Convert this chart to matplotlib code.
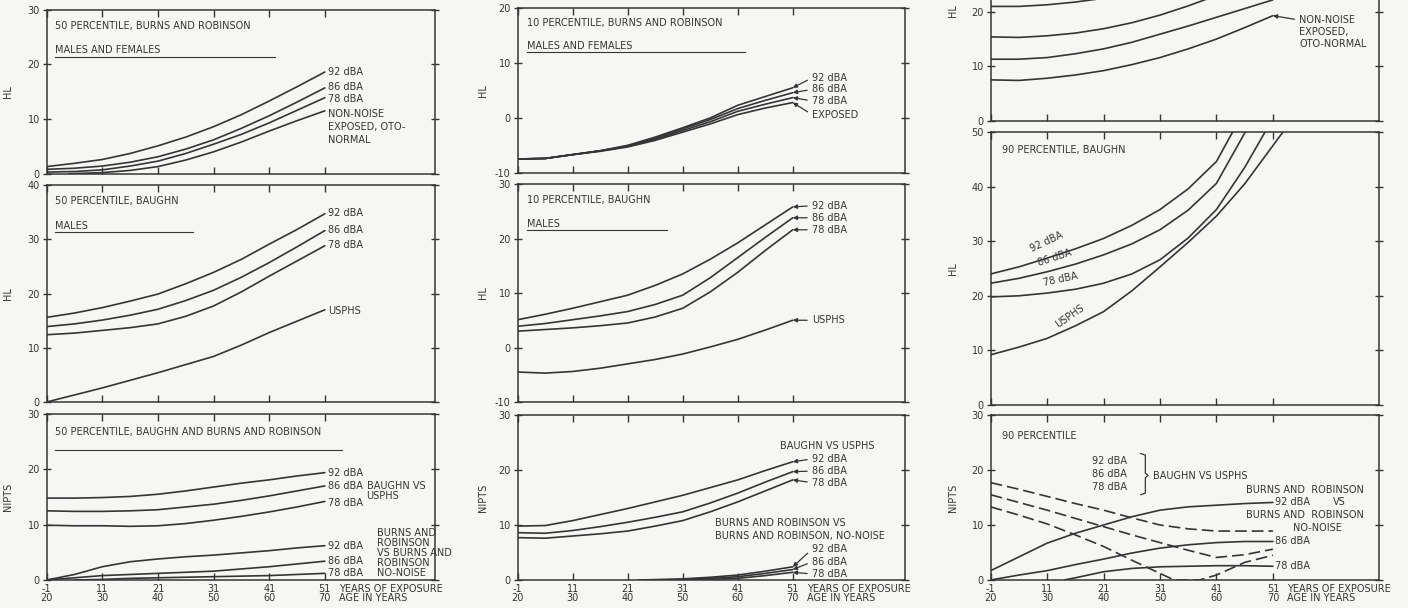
import matplotlib.pyplot as plt

plt.rcParams["font.family"] = ["DejaVu Sans"]
plt.rcParams["axes.unicode_minus"] = False

INK = "#353535"
BG = "#f6f6f4"
FS = 7

# ---- x axis (age in years / years of exposure) ----
ages = [20, 25, 30, 35, 40, 45, 50, 55, 60, 65, 70]
xtick_ages = [20, 30, 40, 50, 60, 70]
xtick_labels = ["-1\n20", "11\n30", "21\n40", "31\n50", "41\n60", "51\n70"]

# ---- 50 percentile, Burns and Robinson (HL) ----
br50_92 = [1.3, 1.9, 2.6, 3.7, 5.1, 6.7, 8.6, 10.8, 13.3, 15.9, 18.6]
br50_86 = [0.8, 1.0, 1.4, 2.1, 3.1, 4.5, 6.2, 8.3, 10.6, 13.1, 15.7]
br50_78 = [0.3, 0.4, 0.7, 1.4, 2.3, 3.7, 5.4, 7.2, 9.3, 11.6, 13.9]
br50_nn_ages = [24, 30, 35, 40, 45, 50, 55, 60, 65, 70]
br50_nn = [0.0, 0.2, 0.6, 1.3, 2.5, 4.0, 5.8, 7.8, 9.7, 11.5]

# ---- 50 percentile, Baughn (HL) ----
ba50_92 = [15.6, 16.4, 17.4, 18.6, 19.9, 21.8, 23.9, 26.3, 29.1, 31.8, 34.7]
ba50_86 = [13.9, 14.4, 15.1, 16.0, 17.1, 18.7, 20.6, 23.0, 25.7, 28.6, 31.6]
ba50_78 = [12.4, 12.7, 13.2, 13.7, 14.4, 15.8, 17.7, 20.3, 23.2, 26.0, 28.8]
ba50_us = [0.0, 1.3, 2.6, 4.0, 5.4, 6.9, 8.4, 10.5, 12.8, 14.9, 17.0]

# ---- 50 percentile NIPTS ----
np50_b92 = [14.8, 14.8, 14.9, 15.1, 15.5, 16.1, 16.8, 17.5, 18.1, 18.8, 19.4]
np50_b86 = [12.5, 12.4, 12.4, 12.5, 12.7, 13.2, 13.7, 14.4, 15.2, 16.1, 17.0]
np50_b78 = [9.9, 9.8, 9.8, 9.7, 9.8, 10.2, 10.8, 11.5, 12.3, 13.2, 14.2]
np50_r92 = [0.0, 1.0, 2.4, 3.3, 3.8, 4.2, 4.5, 4.9, 5.3, 5.8, 6.2]
np50_r86 = [0.0, 0.4, 0.8, 1.0, 1.2, 1.4, 1.6, 2.0, 2.4, 2.9, 3.4]
np50_r78_ages = [25, 30, 35, 40, 45, 50, 55, 60, 65, 70]
np50_r78 = [0.0, 0.1, 0.3, 0.4, 0.5, 0.6, 0.7, 0.8, 1.0, 1.2]

# ---- 10 percentile, Burns and Robinson (HL) ----
br10_92 = [-7.5, -7.4, -6.7, -6.0, -5.0, -3.5, -1.8, 0.0, 2.3, 3.9, 5.5]
br10_86 = [-7.5, -7.4, -6.7, -6.0, -5.1, -3.7, -2.0, -0.3, 1.7, 3.2, 4.6]
br10_78 = [-7.5, -7.4, -6.7, -6.0, -5.2, -3.9, -2.3, -0.7, 1.2, 2.5, 3.7]
br10_ex = [-7.5, -7.4, -6.7, -6.1, -5.3, -4.1, -2.6, -1.1, 0.6, 1.8, 2.8]

# ---- 10 percentile, Baughn (HL) ----
ba10_92 = [5.1, 6.1, 7.2, 8.4, 9.6, 11.4, 13.5, 16.2, 19.2, 22.5, 25.8]
ba10_86 = [3.9, 4.4, 5.1, 5.8, 6.6, 7.9, 9.6, 12.8, 16.5, 20.2, 23.8]
ba10_78 = [3.0, 3.3, 3.6, 4.0, 4.5, 5.6, 7.2, 10.2, 13.8, 17.8, 21.6]
ba10_us = [-4.5, -4.7, -4.4, -3.8, -3.0, -2.2, -1.2, 0.1, 1.5, 3.2, 5.0]

# ---- 10 percentile NIPTS ----
np10_b92 = [9.8, 9.9, 10.8, 11.9, 13.0, 14.2, 15.4, 16.8, 18.2, 19.9, 21.5]
np10_b86 = [8.6, 8.5, 9.0, 9.7, 10.5, 11.4, 12.4, 14.0, 15.8, 17.8, 19.7]
np10_b78 = [7.7, 7.6, 8.0, 8.4, 8.9, 9.8, 10.8, 12.4, 14.2, 16.2, 18.2]
np10_r92_ages = [42, 50, 55, 60, 65, 70]
np10_r92 = [0.0, 0.2, 0.5, 0.9, 1.6, 2.4]
np10_r86_ages = [45, 50, 55, 60, 65, 70]
np10_r86 = [0.0, 0.1, 0.3, 0.6, 1.2, 1.9]
np10_r78_ages = [47, 55, 60, 65, 70]
np10_r78 = [0.0, 0.1, 0.3, 0.8, 1.4]

# ---- 90 percentile, Burns and Robinson (HL), upper part cut off ----
br90_92 = [21.0, 21.0, 21.3, 21.8, 22.5, 23.6, 25.0, 26.8, 29.0, 31.4, 34.0]
br90_86 = [15.4, 15.3, 15.6, 16.1, 16.9, 18.0, 19.4, 21.1, 23.0, 25.0, 27.0]
br90_78 = [11.3, 11.3, 11.6, 12.3, 13.2, 14.4, 15.9, 17.4, 19.0, 20.6, 22.2]
br90_nn = [7.5, 7.4, 7.8, 8.4, 9.2, 10.3, 11.6, 13.2, 15.0, 17.1, 19.3]

# ---- 90 percentile, Baughn (HL) ----
ages_ext = [20, 25, 30, 35, 40, 45, 50, 55, 60, 65, 70, 75]
ba90_92 = [24.0, 25.3, 26.9, 28.6, 30.5, 32.9, 35.8, 39.6, 44.6, 54.0, 64.0, 74.0]
ba90_86 = [22.3, 23.2, 24.4, 25.8, 27.5, 29.5, 32.1, 35.7, 40.6, 49.8, 60.0, 70.0]
ba90_78 = [19.8, 20.0, 20.5, 21.2, 22.3, 24.0, 26.6, 30.6, 35.8, 43.5, 52.5, 62.0]
ba90_us = [9.2, 10.6, 12.2, 14.5, 17.1, 20.9, 25.3, 29.8, 34.6, 40.5, 47.5, 54.5]

# ---- 90 percentile NIPTS ----
np90_r92 = [1.7, 4.2, 6.7, 8.5, 10.0, 11.5, 12.7, 13.3, 13.6, 13.9, 14.1]
np90_r86 = [0.0, 0.9, 1.7, 2.8, 3.8, 4.9, 5.8, 6.4, 6.8, 7.0, 7.0]
np90_r78_ages = [33, 35, 40, 45, 50, 55, 60, 65, 70]
np90_r78 = [0.0, 0.4, 1.5, 2.1, 2.4, 2.5, 2.6, 2.6, 2.5]
np90_b92 = [17.7, 16.5, 15.2, 13.9, 12.7, 11.3, 10.0, 9.3, 8.9, 8.9, 8.9]
np90_b86 = [15.5, 14.1, 12.7, 11.2, 9.7, 8.2, 6.8, 5.4, 4.1, 4.6, 5.6]
np90_b78_ages = [20, 25, 30, 35, 40, 45, 50, 52.5, 57, 60, 65, 70]
np90_b78 = [13.3, 11.8, 10.2, 8.2, 6.1, 3.6, 1.2, 0.0, 0.0, 0.9, 3.2, 4.5]

W, H = 1408, 608
fig = plt.figure(figsize=(W / 100, H / 100), dpi=100, facecolor=BG)

# pixel layout of the nine frames: (left, right) per column, (top, bottom) per row
cols = [(46.7, 435), (517.7, 905), (990.7, 1379)]
rows = [
    [(9.7, 173.7), (185, 402), (414, 580)],
    [(8.3, 172.7), (184, 402), (415, 580)],
    [(-97, 120.7), (132, 405), (415, 580)],
]
ylims = [
    [(0, 30), (0, 40), (0, 30)],
    [(-10, 20), (-10, 30), (0, 30)],
    [(0, 40), (0, 50), (0, 30)],
]
ytop_tick = [[30, 40, 30], [20, 30, 30], [20, 50, 30]]
xmax = [89.8, 90.4, 88.8]
ylabel_x = [13, 488, 958]
ylabels = ["HL", "HL", "NIPTS"]


def make_panel(c, r):
    left, right = cols[c]
    top, bottom = rows[c][r]
    ax = fig.add_axes([left / W, 1 - bottom / H, (right - left) / W, (bottom - top) / H])
    ax.set_facecolor("none")
    ax.set_xlim(20, xmax[c])
    lo, hi = ylims[c][r]
    ax.set_ylim(lo, hi)
    ax.set_yticks(range(lo, ytop_tick[c][r] + 1, 10))
    ax.set_xticks(xtick_ages)
    for s in ax.spines.values():
        s.set_linewidth(1.1)
        s.set_color(INK)
    ax.tick_params(axis="x", direction="in", top=True, length=5, width=1,
                   colors=INK, labelsize=FS, pad=3)
    ax.tick_params(axis="y", direction="inout", right=True, length=6, width=1,
                   colors=INK, labelsize=FS, pad=2)
    if r == 2:
        ax.set_xticklabels(xtick_labels, linespacing=0.9)
        ax.annotate("YEARS OF EXPOSURE\nAGE IN YEARS", xy=(70, 0),
                    xycoords=("data", "axes fraction"), xytext=(10.5, -3),
                    textcoords="offset points", ha="left", va="top",
                    fontsize=FS, color=INK, linespacing=0.9, annotation_clip=False)
    else:
        ax.set_xticklabels([])
    ax.set_ylabel(ylabels[r], fontsize=FS, color=INK)
    ax.yaxis.set_label_coords((ylabel_x[c] - left) / (right - left), 0.5)
    return ax


def curve(ax, x, y, **kw):
    ax.plot(x, y, color=INK, lw=1.2, solid_capstyle="round", **kw)


def label(ax, x, y, s, **kw):
    kw.setdefault("va", "center")
    kw.setdefault("ha", "left")
    ax.text(x, y, s, fontsize=FS, color=INK, **kw)


def arrow_label(ax, xy, xytext, s):
    ax.annotate(s, xy=xy, xytext=xytext, fontsize=FS, color=INK, va="center", ha="left",
                arrowprops=dict(arrowstyle="-|>", color=INK, lw=0.9, mutation_scale=6,
                                relpos=(0, 0.5), shrinkA=1.5, shrinkB=0))


def underline(ax, x0, x1, y):
    ax.plot([x0, x1], [y, y], color=INK, lw=0.8)


# ===== column 1 =====
ax = make_panel(0, 0)
curve(ax, ages, br50_92)
curve(ax, ages, br50_86)
curve(ax, ages, br50_78)
curve(ax, br50_nn_ages, br50_nn)
label(ax, 21.5, 27.0, "50 PERCENTILE, BURNS AND ROBINSON")
label(ax, 21.5, 22.6, "MALES AND FEMALES")
underline(ax, 21.5, 61.0, 21.4)
label(ax, 70.5, 18.6, "92 dBA")
label(ax, 70.5, 15.9, "86 dBA")
label(ax, 70.5, 13.7, "78 dBA")
label(ax, 70.5, 8.5, "NON-NOISE\nEXPOSED, OTO-\nNORMAL", linespacing=1.4)

ax = make_panel(0, 1)
curve(ax, ages, ba50_92)
curve(ax, ages, ba50_86)
curve(ax, ages, ba50_78)
curve(ax, ages, ba50_us)
label(ax, 21.5, 37.0, "50 PERCENTILE, BAUGHN")
label(ax, 21.5, 32.4, "MALES")
underline(ax, 21.5, 46.3, 31.3)
label(ax, 70.5, 34.9, "92 dBA")
label(ax, 70.5, 31.7, "86 dBA")
label(ax, 70.5, 28.9, "78 dBA")
label(ax, 70.5, 16.8, "USPHS")

ax = make_panel(0, 2)
for ys in (np50_b92, np50_b86, np50_b78, np50_r92, np50_r86):
    curve(ax, ages, ys)
curve(ax, np50_r78_ages, np50_r78)
label(ax, 21.5, 26.8, "50 PERCENTILE, BAUGHN AND BURNS AND ROBINSON")
underline(ax, 21.5, 73.1, 23.5)
label(ax, 70.5, 19.3, "92 dBA")
label(ax, 70.5, 17.0, "86 dBA")
label(ax, 70.5, 13.9, "78 dBA")
label(ax, 77.5, 16.1, "BAUGHN VS\nUSPHS", linespacing=1.0)
label(ax, 70.5, 6.1, "92 dBA")
label(ax, 70.5, 3.5, "86 dBA")
label(ax, 70.5, 1.2, "78 dBA")
label(ax, 79.3, 4.9, "BURNS AND\nROBINSON\nVS BURNS AND\nROBINSON\nNO-NOISE", linespacing=1.0)

# ===== column 2 =====
ax = make_panel(1, 0)
for ys in (br10_92, br10_86, br10_78, br10_ex):
    curve(ax, ages, ys)
label(ax, 21.6, 17.4, "10 PERCENTILE, BURNS AND ROBINSON")
label(ax, 21.6, 13.1, "MALES AND FEMALES")
underline(ax, 21.6, 61.3, 12.0)
arrow_label(ax, (70, br10_92[-1]), (73.5, 7.3), "92 dBA")
arrow_label(ax, (70, br10_86[-1]), (73.5, 5.2), "86 dBA")
arrow_label(ax, (70, br10_78[-1]), (73.5, 3.1), "78 dBA")
arrow_label(ax, (70, br10_ex[-1]), (73.5, 0.6), "EXPOSED")

ax = make_panel(1, 1)
for ys in (ba10_92, ba10_86, ba10_78, ba10_us):
    curve(ax, ages, ys)
label(ax, 21.6, 27.0, "10 PERCENTILE, BAUGHN")
label(ax, 21.6, 22.6, "MALES")
underline(ax, 21.6, 47.1, 21.5)
arrow_label(ax, (70, ba10_92[-1]), (73.5, 26.0), "92 dBA")
arrow_label(ax, (70, ba10_86[-1]), (73.5, 23.8), "86 dBA")
arrow_label(ax, (70, ba10_78[-1]), (73.5, 21.6), "78 dBA")
arrow_label(ax, (70, ba10_us[-1]), (73.5, 5.0), "USPHS")

ax = make_panel(1, 2)
for ys in (np10_b92, np10_b86, np10_b78):
    curve(ax, ages, ys)
curve(ax, np10_r92_ages, np10_r92)
curve(ax, np10_r86_ages, np10_r86)
curve(ax, np10_r78_ages, np10_r78)
label(ax, 67.7, 24.3, "BAUGHN VS USPHS")
arrow_label(ax, (70, np10_b92[-1]), (73.5, 22.0), "92 dBA")
arrow_label(ax, (70, np10_b86[-1]), (73.5, 19.8), "86 dBA")
arrow_label(ax, (70, np10_b78[-1]), (73.5, 17.7), "78 dBA")
label(ax, 55.9, 10.3, "BURNS AND ROBINSON VS")
label(ax, 55.9, 8.0, "BURNS AND ROBINSON, NO-NOISE")
arrow_label(ax, (70, np10_r92[-1]), (73.5, 5.6), "92 dBA")
arrow_label(ax, (70, np10_r86[-1]), (73.5, 3.3), "86 dBA")
arrow_label(ax, (70, np10_r78[-1]), (73.5, 1.1), "78 dBA")

# ===== column 3 =====
ax = make_panel(2, 0)
for ys in (br90_92, br90_86, br90_78, br90_nn):
    curve(ax, ages, ys)
ax.yaxis.set_label_coords((ylabel_x[2] - cols[2][0]) / (cols[2][1] - cols[2][0]),
                          (120.7 - 11) / (120.7 + 97))
ax.annotate("NON-NOISE\nEXPOSED,\nOTO-NORMAL", xy=(70, br90_nn[-1]), xytext=(74.7, 16.3),
            fontsize=FS, color=INK, va="center", ha="left", linespacing=1.25,
            arrowprops=dict(arrowstyle="-|>", color=INK, lw=0.9, mutation_scale=6,
                            relpos=(0, 0.85), shrinkA=1.5, shrinkB=0))

ax = make_panel(2, 1)
for ys in (ba90_92, ba90_86, ba90_78, ba90_us):
    curve(ax, ages_ext, ys)
label(ax, 22.0, 46.7, "90 PERCENTILE, BAUGHN")
label(ax, 29.9, 29.9, "92 dBA", rotation=25, ha="center")
label(ax, 31.4, 26.9, "86 dBA", rotation=18, ha="center")
label(ax, 32.3, 23.0, "78 dBA", rotation=12, ha="center")
label(ax, 34.0, 16.2, "USPHS", rotation=35, ha="center")

ax = make_panel(2, 2)
curve(ax, ages, np90_r92)
curve(ax, ages, np90_r86)
curve(ax, np90_r78_ages, np90_r78)
ax.plot(ages, np90_b92, color=INK, lw=1.2, dashes=(7, 3))
ax.plot(ages, np90_b86, color=INK, lw=1.2, dashes=(7, 3))
ax.plot(np90_b78_ages, np90_b78, color=INK, lw=1.2, dashes=(7, 3))
label(ax, 22.0, 26.1, "90 PERCENTILE")
label(ax, 44.1, 21.6, "92 dBA", ha="right")
label(ax, 44.1, 19.3, "86 dBA", ha="right")
label(ax, 44.1, 16.9, "78 dBA", ha="right")
ax.plot([46.6, 47.4, 47.4, 47.9, 47.4, 47.4, 46.6],
        [23.0, 22.7, 19.4, 19.0, 18.6, 15.8, 15.5], color=INK, lw=0.9)
label(ax, 48.7, 18.9, "BAUGHN VS USPHS")
label(ax, 65.3, 16.4, "BURNS AND  ROBINSON")
label(ax, 70.4, 14.1, "92 dBA")
label(ax, 80.7, 14.1, "VS")
label(ax, 65.3, 11.8, "BURNS AND  ROBINSON")
label(ax, 73.6, 9.4, "NO-NOISE")
label(ax, 70.4, 7.0, "86 dBA")
label(ax, 70.4, 2.6, "78 dBA")

fig.savefig("out.png", dpi=100, facecolor=BG)
